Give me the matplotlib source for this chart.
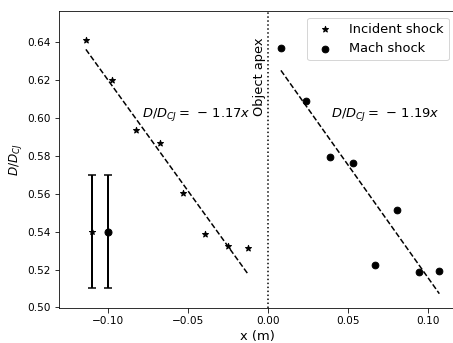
import numpy as np
import matplotlib
matplotlib.use('Agg')
import matplotlib.pyplot as plt

# incident shock (stars)
inc_x = [-0.1138, -0.0975, -0.0825, -0.0675, -0.0531, -0.0394, -0.0250, -0.0125]
inc_y = [0.6412, 0.6200, 0.5937, 0.5868, 0.5604, 0.5388, 0.5325, 0.5314]

# mach shock (circles)
mach_x = [0.0081, 0.0236, 0.0388, 0.0531, 0.0669, 0.0806, 0.0942, 0.1071]
mach_y = [0.6368, 0.6090, 0.5796, 0.5764, 0.5223, 0.5516, 0.5187, 0.5194]

# linear fits, y = intercept + slope*x
inc_slope, inc_intercept = -1.17, 0.5030
mach_slope, mach_intercept = -1.19, 0.6347

# representative error bars
err_x = [-0.11, -0.10]
err_y = [0.54, 0.54]
err_size = 0.03

W, H = 453, 343
fig = plt.figure(figsize=(W / 72, H / 72), dpi=72)
ax = fig.add_axes([59 / W, (H - 308) / H, (455 - 59) / W, (308 - 11) / H])

ax.scatter(inc_x, inc_y, marker='*', color='k', s=40, label='Incident shock')
ax.scatter(mach_x, mach_y, marker='o', color='k', s=45, label='Mach shock')

xf = np.array([inc_x[0], inc_x[-1]])
ax.plot(xf, inc_intercept + inc_slope * xf, 'k--')
xf = np.array([mach_x[0], mach_x[-1]])
ax.plot(xf, mach_intercept + mach_slope * xf, 'k--')

ax.errorbar(err_x[0], err_y[0], yerr=err_size, fmt='*', color='k',
            capsize=4, elinewidth=2, capthick=1.5, markersize=6)
ax.errorbar(err_x[1], err_y[1], yerr=err_size, fmt='o', color='k',
            capsize=4, elinewidth=2, capthick=1.5, markersize=7)

ax.axvline(0, color='k', linestyle=':', linewidth=1.5)
ax.text(-0.0056, 0.6216, 'Object apex', rotation=90, fontsize=13,
        ha='center', va='center')

ax.text(-0.0788, 0.6016, r'$D/D_{CJ} =\, -\,%.2fx$' % abs(inc_slope),
        fontsize=13, va='center')
ax.text(0.0392, 0.6016, r'$D/D_{CJ} =\, -\,%.2fx$' % abs(mach_slope),
        fontsize=13, va='center')

ax.set_xlim(-0.1306, 0.1169)
ax.set_ylim(0.4997, 0.6564)
ax.set_xticks([-0.10, -0.05, 0.00, 0.05, 0.10])
ax.set_yticks([0.50, 0.52, 0.54, 0.56, 0.58, 0.60, 0.62, 0.64])
ax.tick_params(labelsize=10.5, length=4.5)
ax.set_xlabel('x (m)', fontsize=13)
ax.set_ylabel(r'$D/D_{CJ}$', fontsize=12)
ax.legend(loc='upper right', fontsize=13)

fig.savefig('out.png', dpi=72)
